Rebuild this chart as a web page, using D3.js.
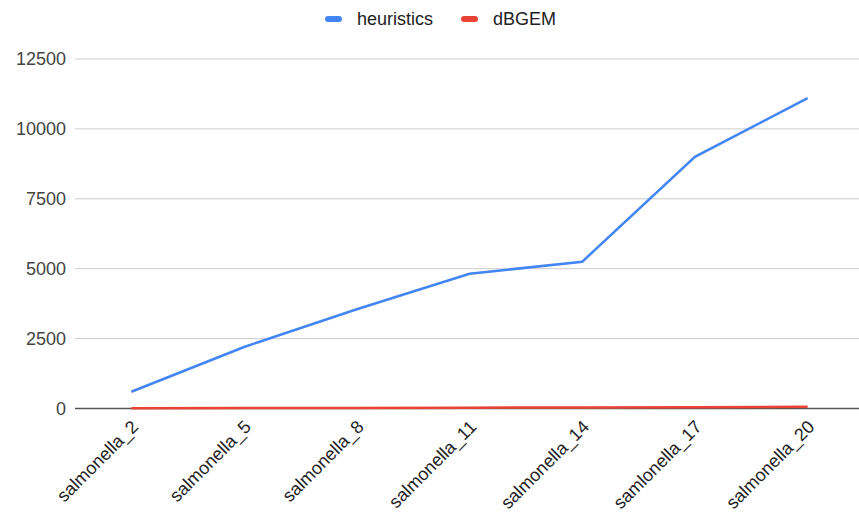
<!DOCTYPE html>
<html>
<head>
<meta charset="utf-8">
<script src="https://cdn.jsdelivr.net/npm/d3@7"></script>
<style>
  body { margin: 0; background: #fff; }
  text { font-family: Arial, "Liberation Sans", sans-serif; }
</style>
</head>
<body>
<svg id="chart" width="859" height="520"></svg>
<script>
var categories = ["salmonella_2", "salmonella_5", "salmonella_8", "salmonella_11",
  "salmonella_14", "samlonella_17", "salmonella_20"];
var heuristics = [600, 2200, 3550, 4820, 5250, 9000, 11100];
var dbgem = [8, 15, 22, 30, 38, 48, 60];
var yTicks = [0, 2500, 5000, 7500, 10000, 12500];

var svg = d3.select("#chart");

var plotLeft = 75, plotRight = 864, plotTop = 59, plotBottom = 408.5;

var x = d3.scalePoint()
  .domain(categories)
  .range([plotLeft, plotRight])
  .padding(0.5);

var y = d3.scaleLinear()
  .domain([0, 12500])
  .range([plotBottom, plotTop]);

// gridlines
svg.append("g")
  .selectAll("line")
  .data(yTicks.filter(function(d) { return d > 0; }))
  .enter().append("line")
  .attr("x1", plotLeft)
  .attr("x2", 859)
  .attr("y1", function(d) { return y(d); })
  .attr("y2", function(d) { return y(d); })
  .attr("stroke", "#cccccc")
  .attr("stroke-width", 1);

// y tick labels
svg.append("g")
  .selectAll("text")
  .data(yTicks)
  .enter().append("text")
  .attr("x", 66)
  .attr("y", function(d) { return y(d); })
  .attr("dy", "0.35em")
  .attr("text-anchor", "end")
  .attr("font-size", 18)
  .attr("fill", "#444444")
  .text(function(d) { return d; });

// x labels
svg.append("g")
  .selectAll("text")
  .data(categories)
  .enter().append("text")
  .attr("transform", function(d) {
    return "translate(" + (x(d) + 8) + "," + 428 + ") rotate(-45)";
  })
  .attr("text-anchor", "end")
  .attr("font-size", 18)
  .attr("fill", "#222222")
  .text(function(d) { return d; });

var line = d3.line()
  .x(function(d, i) { return x(categories[i]); })
  .y(function(d) { return y(d); });

// baseline
svg.append("line")
  .attr("x1", plotLeft)
  .attr("x2", 859)
  .attr("y1", plotBottom)
  .attr("y2", plotBottom)
  .attr("stroke", "#555555")
  .attr("stroke-width", 1.5);

svg.append("path")
  .datum(dbgem)
  .attr("d", line)
  .attr("fill", "none")
  .attr("stroke", "#ea4335")
  .attr("stroke-width", 2.5);

svg.append("path")
  .datum(heuristics)
  .attr("d", line)
  .attr("fill", "none")
  .attr("stroke", "#4285f4")
  .attr("stroke-width", 2.5);

// legend
var legend = [
  { name: "heuristics", color: "#4285f4", x: 325 },
  { name: "dBGEM", color: "#ea4335", x: 461 }
];
var lg = svg.append("g")
  .selectAll("g")
  .data(legend)
  .enter().append("g")
  .attr("transform", function(d) { return "translate(" + d.x + ",19)"; });
lg.append("rect")
  .attr("x", 0)
  .attr("y", -3)
  .attr("width", 17)
  .attr("height", 6)
  .attr("rx", 3)
  .attr("fill", function(d) { return d.color; });
lg.append("text")
  .attr("x", 32)
  .attr("y", 0)
  .attr("dy", "0.35em")
  .attr("font-size", 18)
  .attr("fill", "#222222")
  .text(function(d) { return d.name; });
</script>
</body>
</html>
